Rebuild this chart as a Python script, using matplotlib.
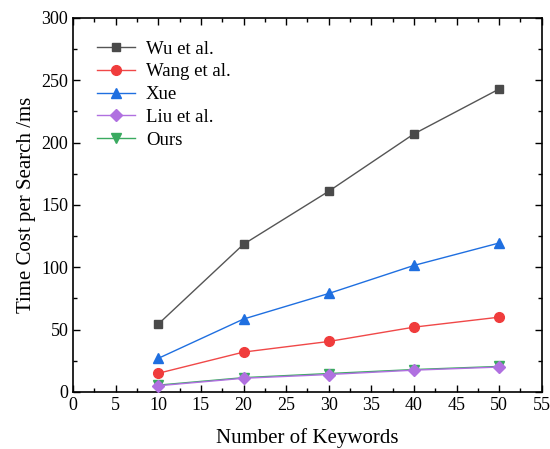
import matplotlib.pyplot as plt
from matplotlib.ticker import MultipleLocator

keywords = [10, 20, 30, 40, 50]
wu = [54.5, 118.5, 161, 207, 243]
wang = [15, 32, 40.5, 52, 60]
xue = [27, 58.5, 79, 101.5, 119.5]
liu = [5, 11, 14, 17.5, 20]
ours = [5.5, 11.5, 14.8, 18, 20.5]

plt.rcParams['font.family'] = ['Liberation Serif', 'DejaVu Serif']
plt.rcParams['font.size'] = 13

fig = plt.figure(figsize=(5.5, 4.49), dpi=100)
ax = fig.add_axes([0.133, 0.127, 0.852, 0.833])

ax.plot(keywords, wu, color='#555555', lw=1, marker='s', ms=6, mfc='#4a4a4a', mec='#4a4a4a', label='Wu et al.')
ax.plot(keywords, wang, color='#f04848', lw=1, marker='o', ms=7, mfc='#f03c3c', mec='#f03c3c', label='Wang et al.')
ax.plot(keywords, xue, color='#1f6fe0', lw=1, marker='^', ms=7.5, mfc='#1f6fe0', mec='#1f6fe0', label='Xue')
ax.plot(keywords, ours, color='#3aaa60', lw=1, marker='v', ms=7, mfc='#3aaa60', mec='#3aaa60', label='Ours', zorder=2)
ax.plot(keywords, liu, color='#b070e0', lw=1, marker='D', ms=6.5, mfc='#b070e0', mec='#b070e0', label='Liu et al.', zorder=3)

handles, labels = ax.get_legend_handles_labels()
order = [0, 1, 2, 4, 3]
ax.legend([handles[i] for i in order], [labels[i] for i in order], loc='upper left',
          bbox_to_anchor=(0.015, 0.985), frameon=False, fontsize=13.5, handlelength=2.0,
          handletextpad=0.6, labelspacing=0.3)

ax.set_xlim(0, 55)
ax.set_ylim(0, 300)
ax.xaxis.set_major_locator(MultipleLocator(5))
ax.xaxis.set_minor_locator(MultipleLocator(2.5))
ax.yaxis.set_major_locator(MultipleLocator(50))
ax.yaxis.set_minor_locator(MultipleLocator(25))
ax.tick_params(which='both', direction='in', top=True, right=True, width=1)
ax.tick_params(which='major', length=5)
ax.tick_params(which='minor', length=3)
for s in ax.spines.values():
    s.set_linewidth(1.2)

ax.set_xlabel('Number of Keywords', fontsize=15, labelpad=10)
ax.set_ylabel('Time Cost per Search /ms', fontsize=15)

fig.savefig('out.png', dpi=100)
